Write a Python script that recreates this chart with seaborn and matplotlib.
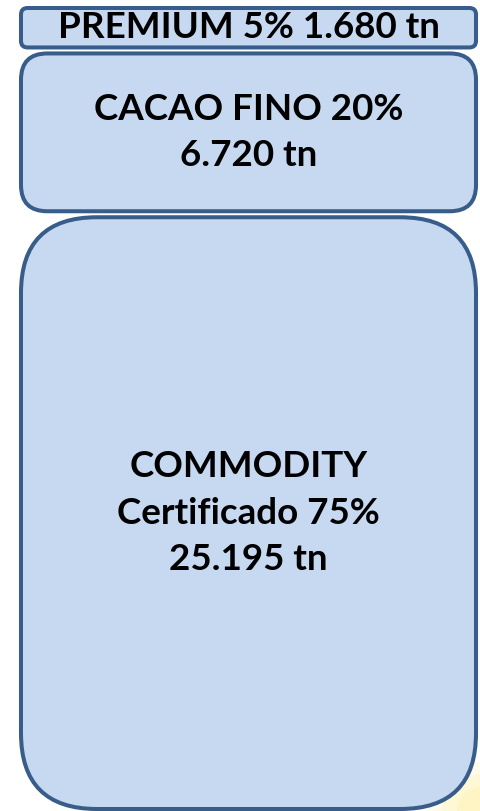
import numpy as np
import pandas as pd
import seaborn as sns
import matplotlib.pyplot as plt
from matplotlib.patches import FancyBboxPatch, Ellipse

# data (stack order from the bottom up)
segments = ['COMMODITY', 'CACAO FINO', 'PREMIUM']
share_pct = [75, 20, 5]
tonnes = ['25.195', '6.720', '1.680']
labels = [
    'COMMODITY\nCertificado 75%\n25.195 tn',
    'CACAO FINO 20%\n6.720 tn',
    'PREMIUM 5% 1.680 tn',
]

FILL = '#C6D9F1'
EDGE = '#385D8A'
W_PX, H_PX = 481, 811
GAP = 0.76          # gap between boxes, in share units
CORNER = 0.1667     # powerpoint style corner ratio

sns.set_theme(style='white')
plt.rcParams['font.family'] = ['Lato', 'DejaVu Sans']

df = pd.DataFrame({'segment': segments, 'share': share_pct, 'tn': tonnes, 'label': labels})
df['bottom'] = df['share'].cumsum().shift(fill_value=0) + GAP * np.arange(len(df))
df['top'] = df['bottom'] + df['share']
df['stack'] = 'total'

fig = plt.figure(figsize=(W_PX / 100, H_PX / 100), dpi=100)
ax = fig.add_axes([0, 0, 1, 1])

# cumulative bars give the x placement, then get redrawn as rounded boxes
sns.barplot(data=df, x='stack', y='top', hue='segment', dodge=False,
            width=0.946, legend=False, ax=ax)

total = df['top'].max()
u = total / 801.0                       # share units per pixel
ax.set_xlim(-248.5 / W_PX, 1 - 248.5 / W_PX)
ax.set_ylim(-2 * u, total + 8 * u)
aspect = u * W_PX

bars = list(ax.patches)
for bar, (_, row) in zip(bars, df.iterrows()):
    bar.set_visible(False)
    x0, w = bar.get_x(), bar.get_width()
    h = row['share']
    r_px = CORNER * min(w * W_PX, h / u)
    box = FancyBboxPatch(
        (x0, row['bottom']), w, h,
        boxstyle='round,pad=0,rounding_size={:.5f}'.format(r_px / W_PX),
        mutation_aspect=aspect,
        facecolor=FILL, edgecolor=EDGE, linewidth=2.9, zorder=3
    )
    ax.add_patch(box)
    ax.text(x0 + w / 2, (row['bottom'] + row['top']) / 2, row['label'],
            ha='center', va='center', fontsize=26.5, fontweight='bold',
            color='black', linespacing=1.5, zorder=4)

# faint yellow glow behind the lower right corner
for k, a in enumerate([0.25, 0.35, 0.45]):
    ax.add_patch(Ellipse((1.0, 0.0), 0.22 - 0.06 * k, 0.12 - 0.03 * k,
                         transform=ax.transAxes, color='#FFF3B0', alpha=a,
                         lw=0, zorder=1))

ax.axis('off')
fig.savefig('out.png', dpi=100, facecolor='white')
